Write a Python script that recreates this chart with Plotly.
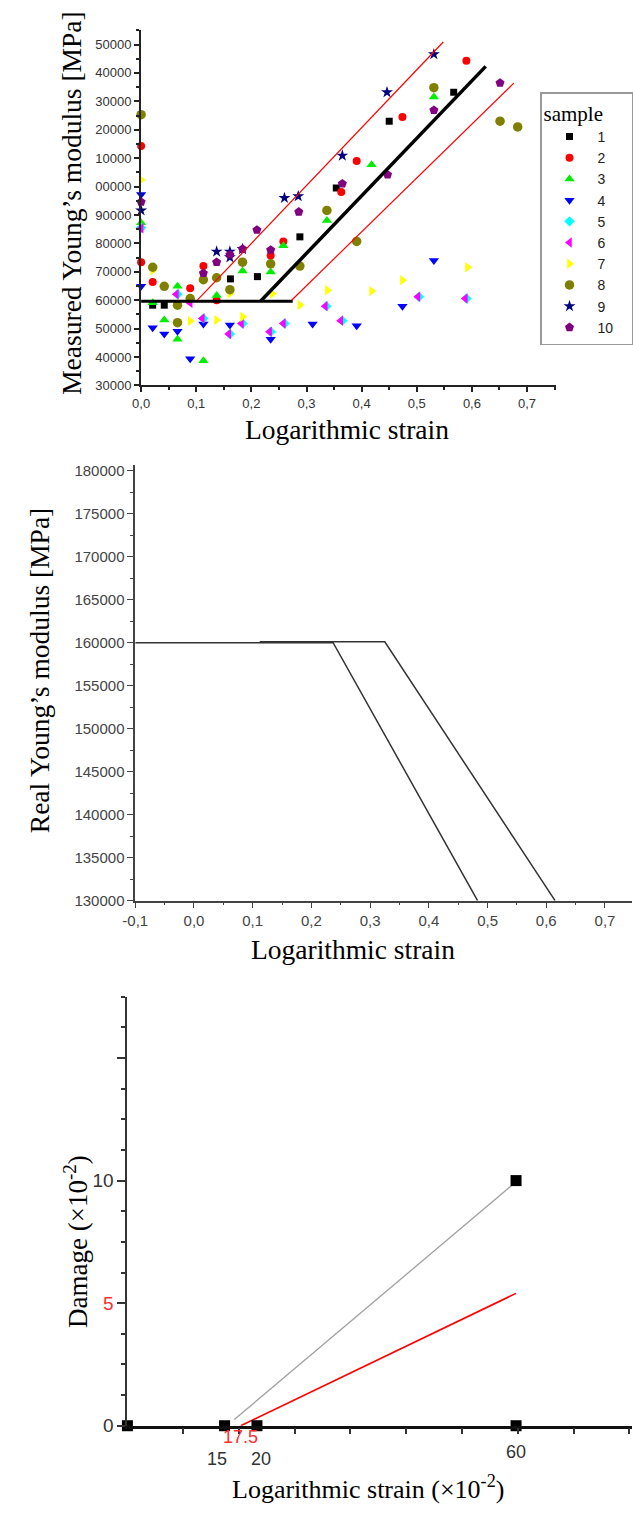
import plotly.graph_objects as go

W, H = 633, 1515

# ---------------- Panel 1 data (measured Young's modulus) ----------------
samples = ["1", "2", "3", "4", "5", "6", "7", "8", "9", "10"]
colors = ["#000000", "#FF0000", "#00EE00", "#0000FF", "#00FFFF",
          "#FF00FF", "#FFFF00", "#808000", "#000080", "#800080"]
symbols = ["square", "circle", "triangle-up", "triangle-down", "diamond",
           "triangle-left", "triangle-right", "circle", "star", "pentagon"]
sizes = [7, 8, 9, 9, 8, 9, 9, 9.5, 9, 9.5]

s1_x = [0.021, 0.042, 0.162, 0.211, 0.288, 0.354, 0.450, 0.567]
s1_y = [158250, 158250, 167500, 168300, 182300, 199500, 223000, 233200]
s2_x = [0.0, 0.0, 0.021, 0.089, 0.113, 0.137, 0.235, 0.258, 0.363, 0.391, 0.474, 0.590]
s2_y = [214300, 173400, 166400, 164200, 172000, 160000, 175700, 180700, 198100, 209000, 224500, 244300]
s3_x = [0.0, 0.021, 0.042, 0.066, 0.066, 0.113, 0.137, 0.184, 0.235, 0.258, 0.337, 0.418, 0.531]
s3_y = [187300, 159100, 153000, 164900, 146300, 138700, 161700, 170300, 169900, 179200, 188100, 207700, 231500]
s4_x = [0.0, 0.0, 0.021, 0.042, 0.066, 0.089, 0.113, 0.161, 0.235, 0.311, 0.391, 0.474, 0.531]
s4_y = [197200, 164900, 150300, 148100, 149100, 139400, 151600, 151300, 146300, 151600, 151000, 157900, 174000]
s5_x = [0.0, 0.066, 0.113, 0.161, 0.184, 0.235, 0.260, 0.336, 0.365, 0.504, 0.590]
s5_y = [185500, 162100, 153600, 148100, 151800, 148900, 151800, 157900, 152800, 161200, 160600]
s6_x = [0.0, 0.064, 0.089, 0.111, 0.159, 0.182, 0.233, 0.258, 0.334, 0.362, 0.502, 0.588]
s6_y = [185300, 162100, 159050, 153600, 148100, 151800, 148900, 151800, 157900, 152800, 161200, 160600]
s7_x = [0.0, 0.021, 0.089, 0.137, 0.161, 0.184, 0.238, 0.288, 0.338, 0.418, 0.474, 0.592]
s7_y = [202400, 170500, 152700, 153000, 162300, 154200, 162300, 158300, 163500, 163200, 167000, 171600]
s8_x = [0.0, 0.021, 0.042, 0.066, 0.066, 0.089, 0.113, 0.137, 0.161, 0.184, 0.235, 0.288,
        0.337, 0.391, 0.531, 0.651, 0.683]
s8_y = [225300, 171600, 164900, 158250, 152100, 160600, 167200, 167900, 163700, 173400, 172800, 172000,
        191600, 180700, 234800, 223000, 221000]
s9_x = [0.0, 0.137, 0.161, 0.161, 0.184, 0.260, 0.285, 0.365, 0.446, 0.531]
s9_y = [191600, 177100, 177100, 175100, 178000, 196000, 196600, 210900, 233200, 246600]
s10_x = [0.0, 0.113, 0.137, 0.161, 0.184, 0.210, 0.235, 0.286, 0.365, 0.447, 0.531, 0.651]
s10_y = [194600, 169500, 173400, 176000, 178000, 184700, 177700, 191100, 201000, 204200, 226900, 236500]
sample_x = [s1_x, s2_x, s3_x, s4_x, s5_x, s6_x, s7_x, s8_x, s9_x, s10_x]
sample_y = [s1_y, s2_y, s3_y, s4_y, s5_y, s6_y, s7_y, s8_y, s9_y, s10_y]

# fitted lines (panel 1)
black_flat_x = [0.0, 0.275]
black_flat_y = [159600, 159600]
black_diag_x = [0.217, 0.625]
black_diag_y = [159700, 242300]
red_up_x = [0.102, 0.548]
red_up_y = [160000, 250900]
red_low_x = [0.273, 0.676]
red_low_y = [160000, 236400]

p1_xticks = [0.0, 0.1, 0.2, 0.3, 0.4, 0.5, 0.6, 0.7]
p1_xtext = ["0,0", "0,1", "0,2", "0,3", "0,4", "0,5", "0,6", "0,7"]
p1_yticks = list(range(130000, 250001, 10000))
p1_ytext = ["30000", "40000", "50000", "60000", "70000", "80000", "90000",
            "00000", "10000", "20000", "30000", "40000", "50000"]

# ---------------- Panel 2 data (real Young's modulus) ----------------
realA_x = [-0.1, 0.237, 0.483]
realA_y = [160000, 160000, 130000]
realB_x = [0.112, 0.325, 0.615]
realB_y = [160100, 160100, 130000]
p2_xticks = [-0.1, 0.0, 0.1, 0.2, 0.3, 0.4, 0.5, 0.6, 0.7]
p2_xtext = ["-0,1", "0,0", "0,1", "0,2", "0,3", "0,4", "0,5", "0,6", "0,7"]
p2_yticks = list(range(130000, 180001, 5000))
p2_ytext = [str(v) for v in p2_yticks]

# ---------------- Panel 3 data (damage) ----------------
dmg_pts_x = [0, 15, 20, 60, 60]
dmg_pts_y = [0, 0, 0, 0, 10]
gray_x = [16.5, 60]
gray_y = [0.25, 9.95]
red_x = [17.5, 60]
red_y = [0, 5.4]
p3_xlabels = [15, 17.5, 20, 60]
p3_xlabel_text = ["15", "17.5", "20", "60"]
p3_xlabel_color = ["#333333", "#FF3030", "#333333", "#333333"]
p3_yticks = [0, 5, 10, 15]
p3_ytext = ["0", "<span style='color:#FF3030'>5</span>", "10", ""]

SERIF = "Liberation Serif, Times New Roman, serif"
SANS = "Liberation Sans, Arial, sans-serif"

fig = go.Figure()

for i in range(10):
    fig.add_trace(go.Scatter(
        x=sample_x[i], y=sample_y[i], mode="markers", name=samples[i],
        marker=dict(symbol=symbols[i], color=colors[i], size=sizes[i], line=dict(width=0)),
        cliponaxis=False, xaxis="x", yaxis="y"))

for lx, ly, c, w in [(black_flat_x, black_flat_y, "#000000", 3),
                     (black_diag_x, black_diag_y, "#000000", 3.5),
                     (red_up_x, red_up_y, "#FF0000", 1.2),
                     (red_low_x, red_low_y, "#FF0000", 1.2)]:
    fig.add_trace(go.Scatter(x=lx, y=ly, mode="lines", line=dict(color=c, width=w),
                             showlegend=False, xaxis="x", yaxis="y"))

for lx, ly in [(realA_x, realA_y), (realB_x, realB_y)]:
    fig.add_trace(go.Scatter(x=lx, y=ly, mode="lines", line=dict(color="#333333", width=1.5),
                             showlegend=False, xaxis="x2", yaxis="y2"))

fig.add_trace(go.Scatter(x=gray_x, y=gray_y, mode="lines", line=dict(color="#A0A0A0", width=1.3),
                         showlegend=False, xaxis="x3", yaxis="y3"))
fig.add_trace(go.Scatter(x=red_x, y=red_y, mode="lines", line=dict(color="#FF0000", width=1.6),
                         showlegend=False, xaxis="x3", yaxis="y3"))
fig.add_trace(go.Scatter(x=dmg_pts_x, y=dmg_pts_y, mode="markers",
                         marker=dict(symbol="square", color="#000000", size=11),
                         cliponaxis=False, showlegend=False, xaxis="x3", yaxis="y3"))


def fx(p):
    return p / W


def fy(p):
    return 1 - p / H


common = dict(showgrid=False, zeroline=False, showline=True, ticks="outside")

fig.update_layout(
    width=W, height=H, margin=dict(l=0, r=0, t=0, b=0),
    paper_bgcolor="white", plot_bgcolor="white",
    xaxis=dict(**common, domain=[fx(131), fx(555)], range=[0, 0.752], anchor="y",
               linecolor="#222", linewidth=2, tickcolor="#222", ticklen=5, tickwidth=1.5,
               tickvals=p1_xticks, ticktext=p1_xtext, tickangle=0,
               tickfont=dict(family=SANS, size=13, color="#333"),
               minor=dict(ticks="outside", ticklen=3, tickcolor="#222", dtick=0.05, tick0=0)),
    yaxis=dict(**common, domain=[fy(386), fy(27)], range=[130000, 255200], anchor="x",
               linecolor="#222", linewidth=2, tickcolor="#222", ticklen=5, tickwidth=1.5,
               tickvals=p1_yticks, ticktext=p1_ytext,
               tickfont=dict(family=SANS, size=13, color="#333"),
               minor=dict(ticks="outside", ticklen=3, tickcolor="#222", dtick=5000, tick0=130000)),
    xaxis2=dict(**common, domain=[fx(125), 1.0], range=[-0.1, 0.746], anchor="y2",
                linecolor="#444", linewidth=1.5, tickcolor="#444", ticklen=6,
                tickvals=p2_xticks, ticktext=p2_xtext, tickangle=0,
                tickfont=dict(family=SANS, size=15, color="#444"),
                minor=dict(ticks="outside", ticklen=3, tickcolor="#444", dtick=0.05, tick0=0)),
    yaxis2=dict(**common, domain=[fy(906), fy(466)], range=[130000, 180700], anchor="x2",
                linecolor="#444", linewidth=1.5, tickcolor="#444", ticklen=6,
                tickvals=p2_yticks, ticktext=p2_ytext,
                tickfont=dict(family=SANS, size=15, color="#444"),
                minor=dict(ticks="outside", ticklen=3, tickcolor="#444", dtick=2500, tick0=130000)),
    xaxis3=dict(**common, domain=[fx(117), 1.0], range=[0, 77.9], anchor="y3",
                linecolor="#111", linewidth=2.5, tickcolor="#111", ticklen=0,
                showticklabels=False,
                minor=dict(ticks="outside", ticklen=6, tickcolor="#333", tickwidth=1.5,
                           tickmode="linear", dtick=8.61, tick0=0)),
    yaxis3=dict(**common, domain=[fy(1436), fy(1003)], range=[0, 17.5], anchor="x3",
                linecolor="#333", linewidth=2, tickcolor="#333", ticklen=8, tickwidth=1.5,
                tickvals=p3_yticks, ticktext=p3_ytext,
                tickfont=dict(family=SANS, size=19, color="#333"),
                minor=dict(ticks="outside", ticklen=4, tickcolor="#333", dtick=1.25, tick0=0)),
    legend=dict(x=fx(539), y=fy(90), xanchor="left", yanchor="top",
                bordercolor="#999", borderwidth=1.5, bgcolor="white",
                font=dict(family=SANS, size=14, color="#222"),
                itemwidth=46,
                title=dict(text="sample\u00a0\u00a0\u00a0\u00a0\u00a0",
                           font=dict(family=SERIF, size=21, color="#000")),
                tracegroupgap=0),
    showlegend=True,
)

annots = [
    dict(text="Measured Young\u2019s modulus [MPa]", x=fx(59), y=fy(202), textangle=-90,
         font=dict(family=SERIF, size=27.5, color="#000")),
    dict(text="Logarithmic strain", x=fx(342), y=fy(430),
         font=dict(family=SERIF, size=27.5, color="#000")),
    dict(text="Real Young\u2019s modulus [MPa]", x=fx(27), y=fy(674), textangle=-90,
         font=dict(family=SERIF, size=27.5, color="#000")),
    dict(text="Logarithmic strain", x=fx(348), y=fy(955),
         font=dict(family=SERIF, size=27.5, color="#000")),
    dict(text="Damage (\u00d710<sup>-2</sup>)", x=fx(65), y=fy(1250), textangle=-90,
         font=dict(family=SERIF, size=27, color="#000")),
    dict(text="Logarithmic strain (\u00d710<sup>-2</sup>)", x=fx(363), y=fy(1498),
         font=dict(family=SERIF, size=26, color="#000")),
]
for a in annots:
    a.update(xref="paper", yref="paper", xshift=0)

# panel-3 x tick labels (positioned at their data values, staggered as in the figure)
label_rows = [1470, 1447, 1470, 1463]
label_shift = [-8, 0, 4, 0]
for v, t, c, row, sh in zip(p3_xlabels, p3_xlabel_text, p3_xlabel_color, label_rows, label_shift):
    annots.append(dict(text=t, x=v, xref="x3", y=fy(row), yref="paper", xshift=sh,
                       font=dict(family=SANS, size=18, color=c)))

for a in annots:
    a.update(showarrow=False, xanchor="center", yanchor="middle", borderpad=0)
fig.update_layout(annotations=annots)

fig.write_html("out.html")
